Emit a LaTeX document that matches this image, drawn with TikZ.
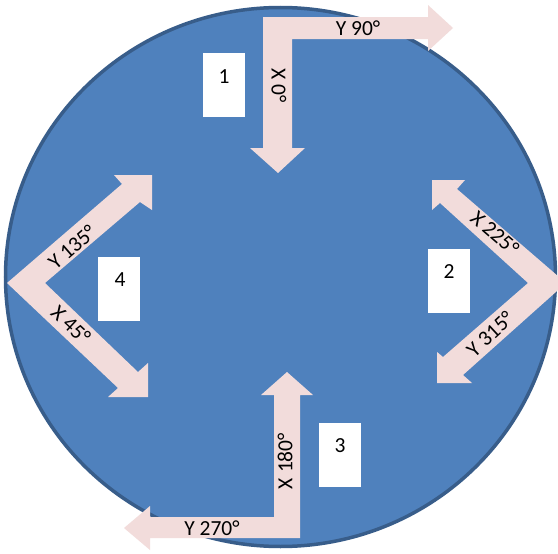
\documentclass[tikz,border=0pt]{standalone}
\usepackage{fontspec}
\setmainfont{Carlito}
\definecolor{discfill}{HTML}{4F81BD}
\definecolor{discline}{HTML}{385D8A}
\definecolor{arrowfill}{HTML}{F2DCDB}
\tikzset{
  arrowshape/.style={fill=arrowfill, draw=none},
  lbl/.style={font=\fontsize{21.5}{21.5}\selectfont, inner sep=0pt, text=black},
  numbox/.style={fill=white, draw=none, minimum width=42pt, minimum height=64pt, inner sep=0pt},
  num/.style={font=\fontsize{21.5}{21.5}\selectfont, inner sep=0pt}
}
\begin{document}
\begin{tikzpicture}[x=1pt,y=-1pt]
\useasboundingbox (0,0) rectangle (558,554);
\clip (0,0) rectangle (558,554);
% disc
\fill[white] (0,0) rectangle (558,554);
\draw[line width=3.5pt, draw=discline, fill=discfill] (280.5,277) ellipse [x radius=275, y radius=269.5];
% arrow 1 (top)
\fill[arrowshape] (263,17) -- (428,17) -- (428,5) -- (453,28) -- (428,51) -- (428,39) -- (292,39) -- (292,148) -- (305,148) -- (278,173) -- (250,148) -- (263,148) -- cycle;
% arrow 3 (bottom)
\fill[arrowshape] (274,395) -- (261,395) -- (287,372) -- (313,395) -- (300,395) -- (300,538) -- (150,538) -- (150,550) -- (124,528) -- (150,506) -- (150,517) -- (274,517) -- cycle;
% arrow 4 (left)
\fill[arrowshape] (7,283) -- (122,184) -- (114,175) -- (152,175) -- (152,210) -- (140,202) -- (45,283) -- (138,372) -- (148,363) -- (148,397) -- (108,397) -- (118,388) -- cycle;
% arrow 2 (right)
\fill[arrowshape] (566,283) -- (457,189) -- (465,180) -- (432,180) -- (432,210) -- (440,203) -- (528,283) -- (443,357) -- (437,352) -- (437,383) -- (472,383) -- (463,375) -- cycle;
% labels on arrows
\node[lbl] (y90) at (358,28) {Y 90°};
\node[lbl, rotate=-90] (x0) at (279,86) {X 0°};
\node[lbl, rotate=90] (x180) at (285,461) {X 180°};
\node[lbl] (y270) at (212,528) {Y 270°};
\node[lbl, rotate=41] (y135) at (72,247) {Y 135°};
\node[lbl, rotate=-43] (x45) at (71,325) {X 45°};
\node[lbl, rotate=-41] (x225) at (495,233) {X 225°};
\node[lbl, rotate=43] (y315) at (490,334) {Y 315°};
% numbered boxes
\node[numbox, anchor=north west] (b1) at (203,53) {};
\node[num] (n1) at (224,77) {1};
\node[numbox, anchor=north west] (b2) at (428,249) {};
\node[num] (n2) at (449,272) {2};
\node[numbox, anchor=north west] (b3) at (319,423) {};
\node[num] (n3) at (340,446) {3};
\node[numbox, anchor=north west] (b4) at (98,257) {};
\node[num] (n4) at (120,280) {4};
\end{tikzpicture}
\end{document}
